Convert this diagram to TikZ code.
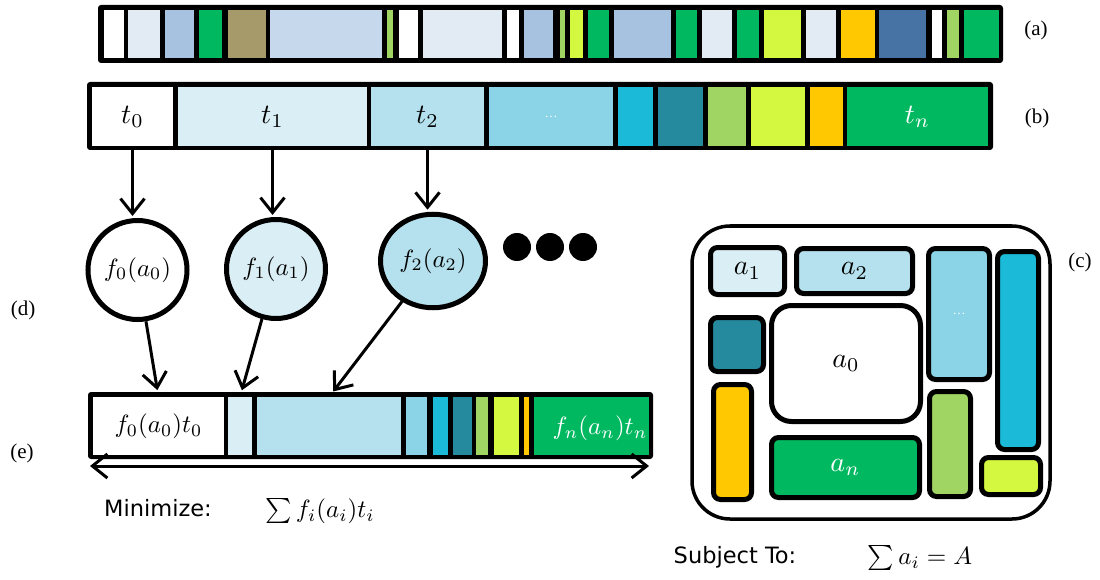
\documentclass[tikz,border=0pt]{standalone}
\usepackage{fontspec}
\setmainfont{Liberation Serif}
\newfontfamily\labfont{DejaVu Sans}
\usetikzlibrary{arrows.meta,shapes.geometric}
\newcommand{\MM}[2][2.5]{\scalebox{#1}{$#2$}}
\definecolor{cP}{HTML}{E2EAF4}
\definecolor{cB}{HTML}{A7C1E0}
\definecolor{cG}{HTML}{00B860}
\definecolor{cO}{HTML}{A69A6A}
\definecolor{cL}{HTML}{C5D8EC}
\definecolor{cLG}{HTML}{A1D563}
\definecolor{cYG}{HTML}{D4F73F}
\definecolor{cY}{HTML}{FFC800}
\definecolor{cDB}{HTML}{4673A3}
\definecolor{cTa}{HTML}{DAEEF5}
\definecolor{cTb}{HTML}{B4E1ED}
\definecolor{cTc}{HTML}{8BD3E6}
\definecolor{cTd}{HTML}{1BBAD8}
\definecolor{cTe}{HTML}{258A9E}
\begin{document}
\begin{tikzpicture}[x=1pt,y=-1pt,
  bar/.style={fill=black, rounded corners=3pt},
  cell/.style={rectangle, inner sep=0pt, outer sep=0pt},
  fn/.style={circle, draw=black, line width=5pt, minimum size=99pt, inner sep=0pt},
  dotn/.style={circle, fill=black, minimum size=28pt, inner sep=0pt},
  arr/.style={line width=3pt, -{Straight Barb[length=15pt, width=24pt]}},
  darr/.style={line width=3pt, {Straight Barb[length=15pt, width=24pt]}-{Straight Barb[length=15pt, width=24pt]}},
  lab/.style={font=\fontsize{21}{24}\selectfont, inner sep=0pt},
  sans/.style={font=\labfont\fontsize{22.5}{26}\selectfont, inner sep=0pt},
  mth/.style={inner sep=0pt},
  blk/.style={rectangle, draw=black, line width=5pt, rounded corners=7pt, inner sep=0pt}
]
\useasboundingbox (0,0) rectangle (1100,580);

% ---- bar (a)
\fill[bar] (98,5) rectangle (1003,63);
\foreach \xa/\xb/\c [count=\i] in {104/124/white, 128/160/cP, 165/194/cB, 199/222/cG, 228/266/cO, 270/382/cL, 387/393/cLG, 399/418/white, 423/502/cP, 507/519/white, 524/553/cB, 560/565/cLG, 570/583/cYG, 588/609/cG, 614/671/cB, 676/697/cG, 702/732/cP, 737/759/cG, 764/801/cYG, 806/836/cP, 841/875/cY, 879/926/cDB, 932/942/white, 947/959/cLG, 964/999/cG}
  \node[cell, fill=\c, minimum width={\xb-\xa}, minimum height=48] (a\i) at ({(\xa+\xb)/2},34) {};
\node[lab] (la) at (1036,30) {(a)};

% ---- bar (b)
\fill[bar] (87,82) rectangle (993,150);
\foreach \xa/\xb/\c/\t/\tc [count=\i from 0] in {92/173/white/{\MM[2.8]{t_0}}/black, 178/367/cTa/{\MM[2.8]{t_1}}/black, 371/484/cTb/{\MM[2.8]{t_2}}/black, 489/613/cTc/{\fontsize{13}{13}\selectfont\ldots}/white, 618/653/cTd//black, 658/703/cTe//black, 708/746/cLG//black, 751/805/cYG//black, 810/843/cY//black, 847/988/cG/{\MM[2.8]{t_n}}/white}
  \node[cell, fill=\c, text=\tc, minimum width={\xb-\xa}, minimum height=59] (b\i) at ({(\xa+\xb)/2},116.5) {\t};
\node[lab] (lb) at (1037,118) {(b)};

% ---- functions (d)
\node[fn, fill=white] (c0) at (137.5,270) {\MM{f_0(a_0)}};
\node[fn, fill=cTa] (c1) at (276,269) {\MM{f_1(a_1)}};
\node[fn, ellipse, fill=cTb, minimum width=105pt, minimum height=93.5pt] (c2) at (433,261) {\MM{f_2(a_2)}};
\node[dotn] (d1) at (517,247) {};
\node[dotn] (d2) at (550,247) {};
\node[dotn] (d3) at (583,247) {};
\node[lab] (ld) at (23,310) {(d)};

\draw[arr, shorten >=2pt] (b0.south) -- (b0.south |- c0.north);
\draw[arr, shorten >=2pt] (b1.south) -- (b1.south |- c1.north);
\draw[arr, shorten >=2pt] (b2.south) -- (b2.south |- c2.north);

% ---- bar (e)
\fill[bar] (88,392) rectangle (653,459);
\foreach \xa/\xb/\c [count=\i from 0] in {93/224/white, 228/252/cTa, 257/401/cTb, 406/427/cTc, 433/448/cTd, 453/472/cTe, 476/488/cLG, 494/519/cYG, 524/529/cY, 534/649/cG}
  \node[cell, fill=\c, minimum width={\xb-\xa}, minimum height=58] (e\i) at ({(\xa+\xb)/2},426) {};
\node[mth] (te0) at (e0) {\MM{f_0(a_0)t_0}};
\node[mth, text=white] (ten) at (600,428) {\MM{f_n(a_n)t_n}};
\node[lab] (le) at (22,453) {(e)};

\draw[arr, shorten >=7pt] (c0) -- (e0.north);
\draw[arr, shorten >=7pt] (c1) -- (e1.north);
\draw[arr, shorten >=7pt] (c2) -- (e2.north);

\coordinate (L) at (90,466);
\coordinate (R) at (649,466);
\draw[darr] (L) -- (R);

\node[sans] (mini) at (158,508) {Minimize:};
\node[mth] (obj) at (320,511) {\MM{\sum f_i(a_i)t_i}};

% ---- area (c)
\node[rectangle, draw=black, line width=3.5pt, rounded corners=38pt, minimum width=358pt, minimum height=293pt] (C) at (871,372.5) {};
\node[blk, fill=cTa, minimum width=74pt, minimum height=47pt] (A1) at (747.5,271) {\MM[2.8]{a_1}};
\node[blk, fill=cTb, minimum width=116pt, minimum height=45pt] (A2) at (854.5,271) {\MM[2.8]{a_2}};
\node[blk, fill=cTc, text=white, minimum width=61pt, minimum height=131pt] (Ad) at (959,314) {\fontsize{13}{13}\selectfont\ldots};
\node[blk, fill=cTd, minimum width=41pt, minimum height=198pt] (Ac) at (1018,350.5) {};
\node[blk, fill=cTe, minimum width=53pt, minimum height=54pt] (At) at (737,344.5) {};
\node[blk, fill=white, rounded corners=20pt, minimum width=149pt, minimum height=116pt] (A0) at (846,363.5) {\MM[2.8]{a_0}};
\node[blk, fill=cY, minimum width=38pt, minimum height=115pt] (Ay) at (732.5,442) {};
\node[blk, fill=cG, text=white, minimum width=148pt, minimum height=60pt] (An) at (845.5,467.5) {\MM[2.8]{a_n}};
\node[blk, fill=cLG, minimum width=41pt, minimum height=105pt] (Al) at (950,444) {};
\node[blk, fill=cYG, minimum width=59pt, minimum height=37pt] (Ag) at (1011,476) {};
\node[lab] (lc) at (1080,262) {(c)};

\node[sans] (subj) at (735,557) {Subject To:};
\node[mth] (cons) at (920,558) {\MM{\sum a_i = A}};
\end{tikzpicture}
\end{document}
